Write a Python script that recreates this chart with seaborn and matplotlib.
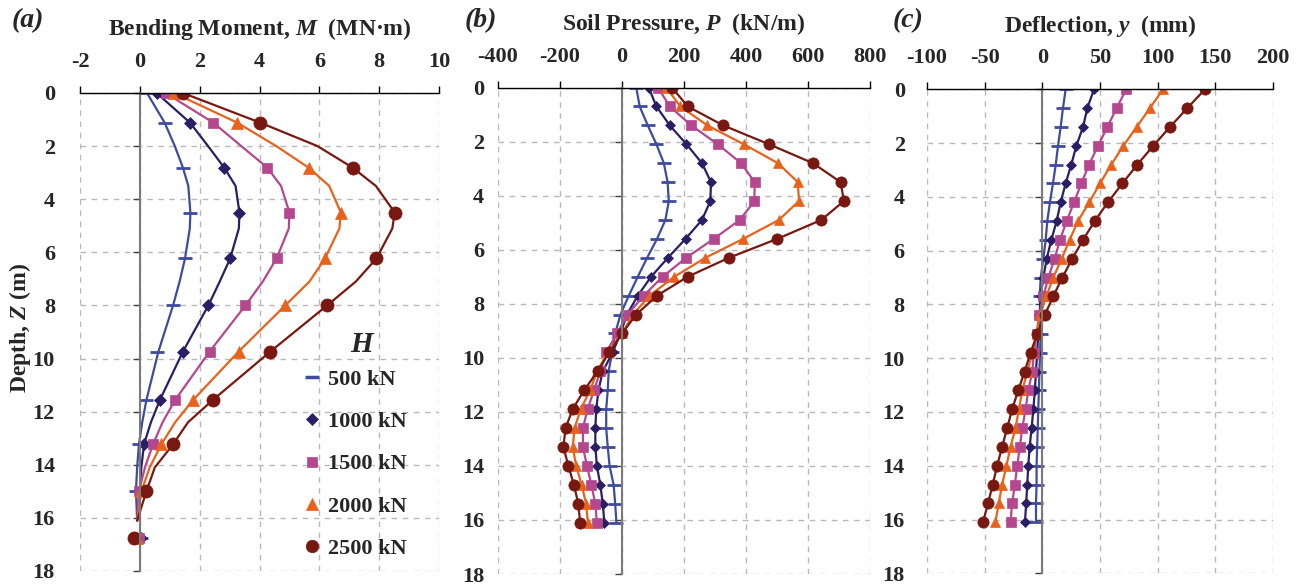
import numpy as np
import pandas as pd
import matplotlib
matplotlib.use("Agg")
import matplotlib.pyplot as plt
from matplotlib.lines import Line2D
import seaborn as sns

# ---------------- data ----------------
loads = ["500 kN", "1000 kN", "1500 kN", "2000 kN", "2500 kN"]
colors = ["#3E4B9E", "#2A1E64", "#B5478F", "#E8621C", "#781810"]
markers = ["_", "D", "s", "^", "o"]

# (a) bending moment (MN·m) at marker depths
depth_a = [0, 1.12, 2.81, 4.5, 6.23, 8.0, 9.74, 11.56, 13.23, 15.0, 16.77]
M_500 = [0.24, 0.83, 1.44, 1.69, 1.51, 1.11, 0.59, 0.22, -0.03, -0.13, 0.03]
M_1000 = [0.56, 1.68, 2.82, 3.33, 3.02, 2.29, 1.44, 0.67, 0.14, 0.0, 0.03]
M_1500 = [0.86, 2.46, 4.26, 5.0, 4.57, 3.53, 2.33, 1.18, 0.44, -0.03, -0.03]
M_2000 = [1.14, 3.26, 5.64, 6.72, 6.19, 4.86, 3.3, 1.78, 0.72, 0.05, -0.1]
M_2500 = [1.44, 4.03, 7.11, 8.52, 7.91, 6.26, 4.36, 2.44, 1.11, 0.22, -0.2]

# (a) curve points (denser than the markers; curves end at the pile toe)
depth_a_line = [0, 1.12, 2.0, 2.81, 3.5, 4.5, 5.1, 6.23, 7.1, 8.0, 9.74,
                11.56, 12.4, 13.23, 14.1, 15.0, 16.1]
ML_500 = [0.24, 0.83, 1.17, 1.44, 1.62, 1.69, 1.67, 1.51, 1.33, 1.11, 0.62,
          0.22, 0.08, -0.03, -0.09, -0.13, -0.09]
ML_1000 = [0.56, 1.68, 2.28, 2.82, 3.2, 3.33, 3.31, 3.02, 2.67, 2.29, 1.44,
           0.67, 0.37, 0.14, 0.05, 0.0, -0.09]
ML_1500 = [0.86, 2.46, 3.39, 4.26, 4.72, 5.0, 4.98, 4.57, 4.11, 3.53, 2.33,
           1.18, 0.76, 0.44, 0.17, -0.03, -0.09]
ML_2000 = [1.14, 3.26, 4.56, 5.64, 6.33, 6.72, 6.67, 6.19, 5.67, 4.86, 3.3,
           1.78, 1.18, 0.72, 0.33, 0.05, -0.09]
ML_2500 = [1.44, 4.03, 5.94, 7.11, 7.89, 8.52, 8.44, 7.91, 7.22, 6.26, 4.36,
           2.44, 1.61, 1.11, 0.5, 0.22, -0.09]

# (b) soil pressure (kN/m) and (c) deflection (mm)
depth_bc = [0, 0.7, 1.4, 2.1, 2.8, 3.5, 4.2, 4.9, 5.6, 6.3, 7.0, 7.7,
            8.4, 9.1, 9.8, 10.5, 11.2, 11.9, 12.6, 13.3, 14.0, 14.7, 15.4, 16.1]
P_500 = [46, 57, 83, 111, 135, 147, 151, 140, 113, 81, 51, 22,
         -5, -22, -32, -43, -46, -51, -51, -46, -40, -27, -22, -18]
P_1000 = [86, 111, 154, 208, 258, 287, 285, 258, 205, 148, 94, 51,
          16, -5, -30, -62, -76, -83, -86, -86, -81, -70, -62, -57]
P_1500 = [116, 154, 223, 309, 384, 428, 427, 380, 296, 207, 131, 70,
          18, -16, -51, -70, -90, -111, -126, -126, -113, -99, -86, -81]
P_2000 = [143, 188, 275, 393, 503, 567, 571, 506, 391, 269, 169, 89,
          36, 0, -46, -80, -103, -133, -153, -159, -148, -130, -116, -110]
P_2500 = [161, 212, 326, 474, 616, 705, 716, 643, 501, 345, 212, 113,
          46, 0, -41, -79, -122, -159, -182, -189, -173, -155, -141, -135]

y_500 = [20.2, 17.9, 15.9, 13.6, 11.6, 9.2, 6.6, 4.3, 2.9, 0.9, -1.4, -2.3,
         -1.5, -1.5, -2.0, -2.5, -3.0, -3.5, -4.0, -4.5, -5.0, -5.0, -5.5, -5.5]
y_1000 = [44.8, 39.0, 35.3, 29.5, 25.1, 20.2, 15.9, 12.4, 7.8, 3.8, 0.9, -1.4,
          -2.5, -3.5, -4.5, -5.5, -6.5, -7.8, -9.3, -11.0, -12.2, -13.1, -14.0, -15.1]
y_1500 = [72.8, 64.4, 56.4, 48.3, 40.5, 33.8, 27.5, 21.1, 15.3, 10.7, 5.2, 0.9,
          -2.9, -4.9, -7.3, -8.7, -12.2, -14.5, -17.4, -19.5, -21.8, -23.8, -26.2, -27.6]
y_2000 = [104.6, 93.3, 81.8, 70.2, 59.8, 50.0, 40.7, 30.9, 23.7, 16.8, 9.5, 3.5,
          -2.0, -5.0, -8.7, -13.0, -17.4, -20.3, -23.3, -27.6, -31.1, -34.9, -37.8, -40.7]
y_2500 = [141.0, 125.7, 110.7, 96.2, 82.4, 69.4, 56.9, 45.4, 35.3, 26.0, 17.3, 9.5,
          2.0, -4.4, -10.2, -15.4, -20.9, -26.2, -30.5, -34.9, -39.2, -43.0, -47.1, -51.5]

M_all = [M_500, M_1000, M_1500, M_2000, M_2500]
ML_all = [ML_500, ML_1000, ML_1500, ML_2000, ML_2500]
P_all = [P_500, P_1000, P_1500, P_2000, P_2500]
Y_all = [y_500, y_1000, y_1500, y_2000, y_2500]

depth_ticks = [0, 2, 4, 6, 8, 10, 12, 14, 16, 18]

# ---------------- style ----------------
sns.set_style("white")
plt.rcParams["font.family"] = ["Liberation Serif", "DejaVu Serif"]
plt.rcParams["font.weight"] = "bold"
plt.rcParams["mathtext.fontset"] = "custom"
plt.rcParams["mathtext.it"] = "Liberation Serif:italic:bold"
plt.rcParams["mathtext.rm"] = "Liberation Serif:bold"

W, H = 1307, 588
fig = plt.figure(figsize=(W / 100, H / 100), dpi=100)

def px_axes(x0, x1, y0, y1):
    return fig.add_axes([x0 / W, 1 - y1 / H, (x1 - x0) / W, (y1 - y0) / H])

ax_a = px_axes(80, 439, 93, 571)
ax_b = px_axes(498, 870, 87.5, 574)
ax_c = px_axes(927, 1273, 89.3, 573.3)

ms_scale = {"_": 10, "D": 6.0, "s": 7.5, "^": 8.5, "o": 9}

def style_axes(ax, xlim, xticks, title, ylab_pad):
    ax.set_xlim(*xlim)
    ax.set_ylim(18, 0)
    ax.set_xticks(xticks)
    ax.set_yticks(depth_ticks)
    ax.xaxis.tick_top()
    ax.xaxis.set_label_position("top")
    ax.set_xlabel(title, fontsize=17, fontweight="bold", labelpad=12)
    ax.set_ylabel("")
    ax.grid(True, color="#b8b8b8", linestyle=(0, (4, 4)), linewidth=1.0)
    ax.set_axisbelow(True)
    for s in ["right", "bottom"]:
        ax.spines[s].set_visible(False)
    ax.spines["top"].set_color("black")
    ax.spines["top"].set_linewidth(1.0)
    ax.spines["left"].set_position(("data", 0))
    ax.spines["left"].set_color("#7a7a7a")
    ax.spines["left"].set_linewidth(1.5)
    ax.tick_params(axis="x", which="both", direction="out", length=5, width=1,
                   color="black", labelsize=16, pad=10, top=True, bottom=False)
    ax.tick_params(axis="y", direction="out", length=5, width=1, color="#404040",
                   labelleft=False, left=True)
    ax.set_xticklabels([f"{t:g}" for t in xticks], fontweight="bold")
    sec = ax.secondary_yaxis("left")
    sec.spines["left"].set_visible(False)
    sec.set_yticks(depth_ticks)
    sec.set_yticklabels([str(t) for t in depth_ticks], fontweight="bold")
    sec.tick_params(length=0, labelsize=16, pad=ylab_pad)

# (a)
for ML, c in zip(ML_all, colors):
    sns.lineplot(x=ML, y=depth_a_line, sort=False, estimator=None, color=c,
                 lw=1.6, ax=ax_a)
for M, c, m in zip(M_all, colors, markers):
    sns.lineplot(x=M, y=depth_a, sort=False, estimator=None, color=c, lw=0,
                 linestyle="", marker=m, markersize=ms_scale[m] * (1.05 if m != "_" else 1),
                 markeredgecolor=c, markeredgewidth=2 if m == "_" else 0.5, ax=ax_a)
style_axes(ax_a, (-2, 10), [-2, 0, 2, 4, 6, 8, 10], "Bending Moment, $M$  (MN·m)", 18)

# (b)
for P, c, m in zip(P_all, colors, markers):
    sns.lineplot(x=P, y=depth_bc, sort=False, estimator=None, color=c, lw=1.6,
                 marker=m, markersize=ms_scale[m] * 0.9 if m != "_" else 10,
                 markeredgecolor=c, markeredgewidth=2 if m == "_" else 0.5, ax=ax_b)
style_axes(ax_b, (-400, 800), [-400, -200, 0, 200, 400, 600, 800],
           "Soil Pressure, $P$  (kN/m)", 10)

# (c)
for Y, c, m in zip(Y_all, colors, markers):
    sns.lineplot(x=Y, y=depth_bc, sort=False, estimator=None, color=c, lw=1.6,
                 marker=m, markersize=ms_scale[m] * 0.9 if m != "_" else 10,
                 markeredgecolor=c, markeredgewidth=2 if m == "_" else 0.5, ax=ax_c)
style_axes(ax_c, (-100, 200), [-100, -50, 0, 50, 100, 150, 200],
           "Deflection, $y$  (mm)", 16)

# legend in (a)
handles = [Line2D([], [], color=c, marker=m, linestyle="None",
                  markersize=ms_scale[m] if m != "_" else 10,
                  markeredgewidth=2.5 if m == "_" else 0.5, markeredgecolor=c)
           for c, m in zip(colors, markers)]
leg = ax_a.legend(handles, loads, loc="upper left", bbox_to_anchor=(0.56, 0.464),
                  frameon=False, fontsize=16, labelspacing=0.98, handlelength=1.0,
                  handletextpad=0.2)
for t in leg.get_texts():
    t.set_fontweight("bold")
ax_a.text((362 - 80) / 359, 1 - (344 - 93) / 478, "H", transform=ax_a.transAxes,
          fontsize=21, fontweight="bold", fontstyle="italic", ha="center", va="center")

# panel labels and y label
for lab, xp in [("(a)", 12), ("(b)", 465), ("(c)", 893)]:
    fig.text(xp / W, 1 - 8 / H, lab, fontsize=20, fontweight="bold",
             fontstyle="italic", va="top", ha="left")
fig.text(20 / W, 1 - 328 / H, "Depth, $Z$ (m)", rotation=90, fontsize=17,
         fontweight="bold", va="center", ha="center")

fig.savefig("out.png", dpi=100)
